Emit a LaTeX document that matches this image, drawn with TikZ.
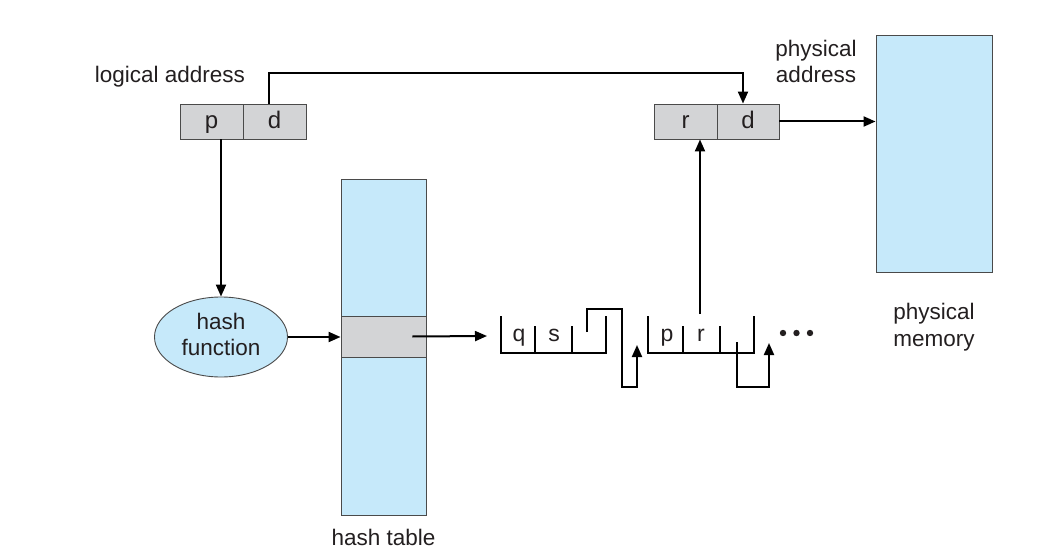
\documentclass[tikz,border=0pt]{standalone}
\usepackage{fontspec}
\setmainfont{Liberation Sans}
\usetikzlibrary{arrows.meta,shapes.geometric}

\definecolor{memblue}{HTML}{C6E9FA}
\definecolor{cellgray}{HTML}{D3D4D6}
\definecolor{edge}{HTML}{4A4A4A}
\definecolor{txt}{HTML}{231F20}

\begin{document}
\begin{tikzpicture}[x=1pt,y=-1pt,
  lbl/.style={font=\fontsize{22.5}{25.5}\selectfont, text=txt, align=center, inner sep=0pt},
  cell/.style={draw=edge, fill=cellgray, line width=0.9pt, minimum height=35pt,
    inner sep=0pt, text height=17pt, text depth=2pt,
    font=\fontsize{24}{26}\selectfont, text=txt},
  area/.style={draw=edge, fill=memblue, line width=0.9pt, inner sep=0pt},
  arr/.style={line width=2pt, -{Triangle[length=12pt,width=10pt]}},
  wire/.style={line width=2pt},
  entry/.style={font=\fontsize{23}{25}\selectfont, text=txt, inner sep=0pt, anchor=base},
]
\useasboundingbox (0,0) rectangle (1053,559);

% logical address p | d
\node[lbl] (lalabel) at (170,77) {logical address};
\node[cell, minimum width=63pt] (p) at (211.5,121.5) {p};
\node[cell, minimum width=63pt] (d) at (274.5,121.5) {d};

% physical address r | d
\node[lbl] (palabel) at (816,61.5) {physical\\address};
\node[cell, minimum width=63pt] (r) at (685.5,121.5) {r};
\node[cell, minimum width=62pt] (rd) at (748,121.5) {d};

% physical memory
\node[area, minimum width=116pt, minimum height=237pt] (mem) at (934,153.5) {};
\node[lbl, font=\fontsize{22.5}{26.5}\selectfont] (memlabel) at (934,327) {physical\\memory};

% hash function and hash table
\node[ellipse, area, minimum width=133pt, minimum height=80pt] (hf) at (221,337) {};
\node[lbl] (hftext) at (221,334.5) {hash\\function};
\node[area, minimum width=85pt, minimum height=336pt] (ht) at (383.5,347) {};
\node[draw=edge, fill=cellgray, line width=0.9pt, minimum width=85pt, minimum height=41pt, inner sep=0pt] (slot) at (383.5,336.5) {};
\node[lbl] (htlabel) at (383.5,537) {hash table};

% hash chain: two list entries with next pointers
\coordinate (e1) at (501,353);
\coordinate (e2) at (648,353);
\coordinate (chainin) at (487,336);
\coordinate (rptr) at (700,314);

\draw[wire] (e1) ++(0,-37) -- (e1) -- ++(105,0) -- ++(0,-37);
\draw[wire] (e1) ++(34,0) -- ++(0,-27);
\draw[wire] (e1) ++(71,0) -- ++(0,-27);
\node[entry] (q) at (519,341.5) {q};
\node[entry] (s) at (554,341.5) {s};

\draw[wire] (e2) ++(0,-37) -- (e2) -- ++(106,0) -- ++(0,-37);
\draw[wire] (e2) ++(35,0) -- ++(0,-27);
\draw[wire] (e2) ++(72,0) -- ++(0,-27);
\node[entry] (pp) at (667,341.5) {p};
\node[entry] (rr) at (701,341.5) {r};

\coordinate (next1) at (587,332);
\coordinate (tip1) at (637,345);
\draw[arr] (next1) -- (587,309) -- (622,309) -- (622,387) -- (637,387) -- (tip1);

\coordinate (next2) at (737,342);
\coordinate (tip2) at (769,343);
\draw[arr] (next2) -- (737,387) -- (769,387) -- (tip2);

\foreach \xx in {783,796.5,810} \fill[txt] (\xx,333) circle (3.2pt);

% connectors
\draw[arr] ([xshift=-5.5pt]d.north) -- ++(0,-31) -| ([xshift=-5pt]rd.north);
\draw[arr] (rd.east) -- (rd.east -| mem.west);
\draw[arr] (p.south -| hf.north) -- (hf.north);
\draw[arr] (hf.east) -- (hf.east -| slot.west);
\draw[arr] ([xshift=-14pt]slot.east) -- (chainin);
\draw[arr] (rptr) -- (rptr |- r.south);
\end{tikzpicture}
\end{document}
